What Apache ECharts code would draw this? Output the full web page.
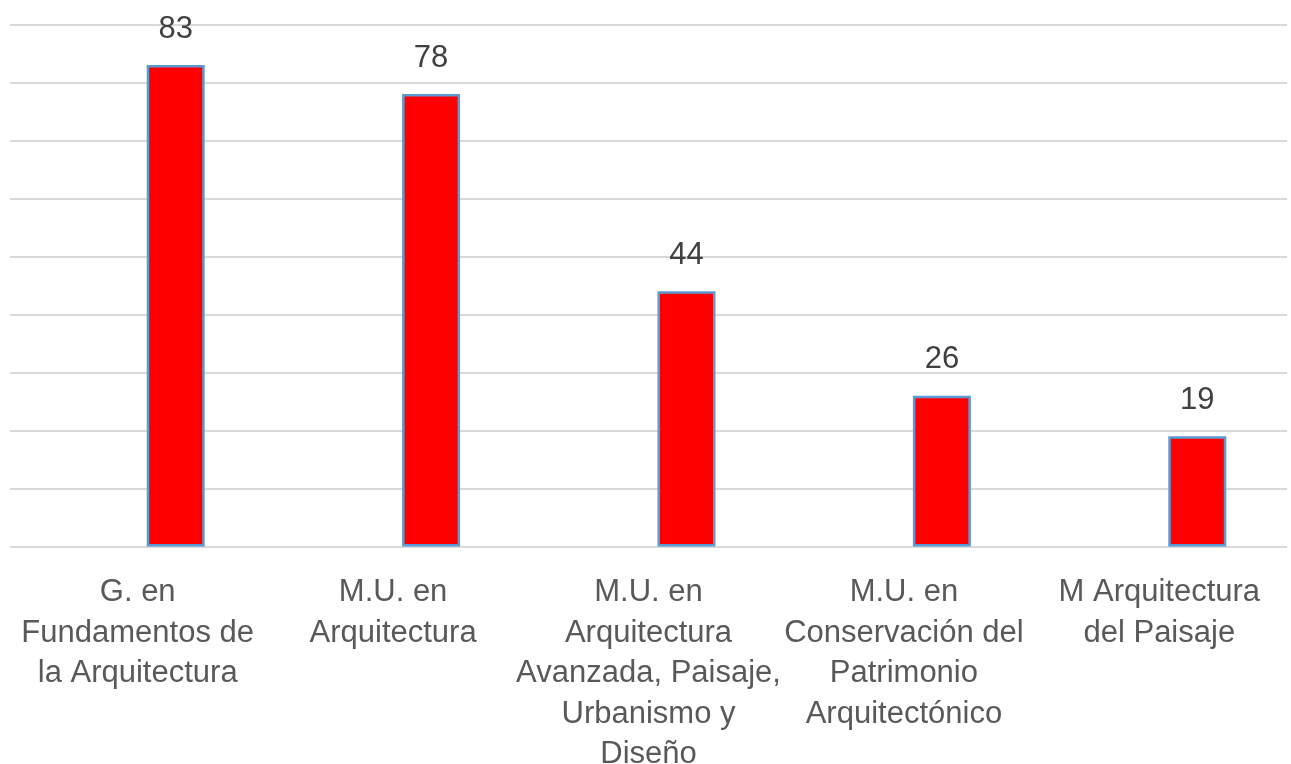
<!DOCTYPE html>
<html>
<head>
<meta charset="utf-8">
<script src="https://cdn.jsdelivr.net/npm/echarts@6/dist/echarts.min.js"></script>
<style>html,body{margin:0;padding:0;background:#fff}#c{width:1291px;height:764px}</style>
</head>
<body>
<div id="c"></div>
<script>
const categories = [
  "G. en\nFundamentos de\nla Arquitectura",
  "M.U. en\nArquitectura",
  "M.U. en\nArquitectura\nAvanzada, Paisaje,\nUrbanismo y\nDiseño",
  "M.U. en\nConservación del\nPatrimonio\nArquitectónico",
  "M Arquitectura\ndel Paisaje"
];
const values = [83, 78, 44, 26, 19];
const spacer = [null, null, null, null, null];
const yTicks = { min: 0, max: 90, interval: 10 };

const chart = echarts.init(document.getElementById('c'), null, { renderer: 'canvas' });
chart.setOption({
  animation: false,
  grid: { left: 10, right: 4, top: 24.5, bottom: 217.5, containLabel: false, outerBoundsMode: 'none' },
  xAxis: {
    type: 'category',
    data: categories,
    axisLine: { show: false },
    axisTick: { show: false },
    axisLabel: {
      interval: 0,
      margin: 26,
      color: '#595959',
      fontFamily: 'Liberation Sans',
      fontSize: 31,
      lineHeight: 40.5
    }
  },
  yAxis: {
    type: 'value',
    min: yTicks.min, max: yTicks.max, interval: yTicks.interval,
    axisLabel: { show: false },
    axisLine: { show: false },
    axisTick: { show: false },
    splitLine: { lineStyle: { color: '#D9D9D9', width: 2 } }
  },
  series: [
    { type: 'bar', data: spacer, barWidth: 58, barGap: '31%', itemStyle: { color: 'transparent' } },
    {
      type: 'bar', data: values, barWidth: 58, barGap: '31%',
      itemStyle: { color: '#FF0000', borderColor: '#5B9BD5', borderWidth: 2.5 },
      label: {
        show: true, position: 'top', distance: 18,
        color: '#404040', fontFamily: 'Liberation Sans', fontSize: 31, lineHeight: 36
      }
    }
  ]
});
</script>
</body>
</html>
